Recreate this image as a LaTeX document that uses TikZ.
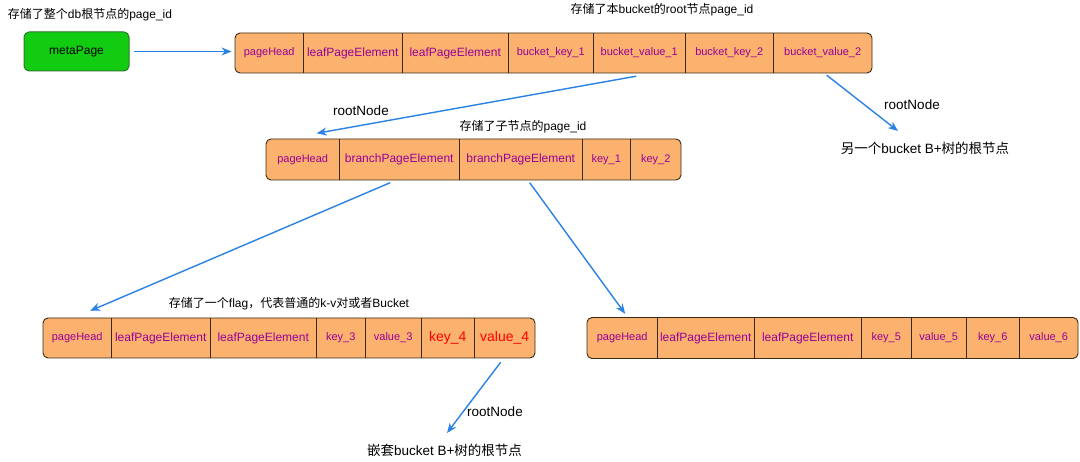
\documentclass[tikz,border=0pt]{standalone}
\usepackage{fontspec}
\setmainfont{Liberation Sans}
\newfontfamily\cjk{Noto Sans CJK SC}
\usetikzlibrary{calc,arrows.meta}
\definecolor{cellfill}{HTML}{FAB26E}
\definecolor{celltext}{HTML}{990099}
\definecolor{cellline}{HTML}{3A2A12}
\definecolor{arrblue}{HTML}{2A82E4}
\definecolor{metafill}{HTML}{11CC11}
\definecolor{metaline}{HTML}{2A7A2A}
\tikzset{
  rowbox/.style={draw=cellline, line width=0.9pt, fill=cellfill, rounded corners=5pt, inner sep=0pt},
  cell/.style={anchor=west, inner sep=0pt, minimum height=40pt, text=celltext, font=\fontsize{11}{13}\selectfont},
  bigcell/.style={cell, font=\fontsize{12}{14}\selectfont},
  redcell/.style={cell, text=red, font=\fontsize{14}{16}\selectfont},
  divider/.style={draw=cellline, line width=1.8pt},
  arr/.style={draw=arrblue, line width=1.4pt, -{Stealth[length=10pt,width=8pt]}},
  lbl/.style={inner sep=0pt, font=\fontsize{12}{14}\selectfont},
  rlbl/.style={inner sep=0pt, font=\fontsize{13.5}{15}\selectfont},
  metabox/.style={draw=metaline, line width=1pt, fill=metafill, rounded corners=5pt, inner sep=0pt, font=\fontsize{12}{14}\selectfont}
}
\begin{document}
\begin{tikzpicture}[x=1pt,y=-1pt]
\useasboundingbox[fill=white] (0,0) rectangle (1080,462);

% ---- top labels
\node[lbl] (l1) at (90,15) {{\cjk 存储了整个}db{\cjk 根节点的}page\_id};
\node[lbl] (l2) at (662,10) {{\cjk 存储了本}bucket{\cjk 的}root{\cjk 节点}page\_id};

% ---- metaPage
\node[metabox, minimum width=105pt, minimum height=39pt] (m) at (76.5,51.5) {metaPage};

% ---- row 1
\node[rowbox, minimum width=637pt, minimum height=40pt] (r1) at (553.5,53) {};
\node[cell, minimum width=68pt] (a1) at (235,53) {pageHead};
\node[bigcell, minimum width=99pt] (a2) at (303,53) {leafPageElement};
\node[bigcell, minimum width=106pt] (a3) at (402,53) {leafPageElement};
\node[cell, minimum width=85pt] (a4) at (508,53) {bucket\_key\_1};
\node[cell, minimum width=92pt] (a5) at (593,53) {bucket\_value\_1};
\node[cell, minimum width=88pt] (a6) at (685,53) {bucket\_key\_2};
\node[cell, minimum width=99pt] (a7) at (773,53) {bucket\_value\_2};
\foreach \n in {a1,a2,a3,a4,a5,a6} \draw[divider] (\n.north east) -- (\n.south east);

\draw[arr, shorten <=4pt, shorten >=3pt] (m.east) -- (m.east -| r1.west);

% ---- row 2
\node[rlbl] (rn1) at (361,111) {rootNode};
\node[lbl] (l3) at (523,127) {{\cjk 存储了子节点的}page\_id};
\node[rowbox, minimum width=415pt, minimum height=41pt] (r2) at (473.5,159.5) {};
\node[cell, minimum width=73pt] (b1) at (266,159.5) {pageHead};
\node[bigcell, minimum width=120pt] (b2) at (339,159.5) {branchPageElement};
\node[bigcell, minimum width=123pt] (b3) at (459,159.5) {branchPageElement};
\node[cell, minimum width=48pt] (b4) at (582,159.5) {key\_1};
\node[cell, minimum width=51pt] (b5) at (630,159.5) {key\_2};
\foreach \n in {b1,b2,b3,b4} \draw[divider] (\n.north east) -- (\n.south east);

\draw[arr] ($(a5.south)+(-3,3)$) -- ($(b1.north)+(14,-6)$);

% ---- other bucket
\node[rlbl] (rn2) at (912,105) {rootNode};
\node[rlbl] (o1) at (925,148) {{\cjk 另一个}bucket B+{\cjk 树的根节点}};
\draw[arr] ($(a7.south)+(4,2)$) -- ($(o1)+(-27,-17)$);

% ---- row 3 left
\node[lbl] (l4) at (289,304) {{\cjk 存储了一个}flag{\cjk ，代表普通的}k-v{\cjk 对或者}Bucket};
\node[rowbox, minimum width=492pt, minimum height=40pt] (r3) at (289,338) {};
\node[cell, minimum width=68pt] (c1) at (43,338) {pageHead};
\node[bigcell, minimum width=99pt] (c2) at (111,338) {leafPageElement};
\node[bigcell, minimum width=106pt] (c3) at (210,338) {leafPageElement};
\node[cell, minimum width=49pt] (c4) at (316,338) {key\_3};
\node[cell, minimum width=56pt] (c5) at (365,338) {value\_3};
\node[redcell, minimum width=53pt] (c6) at (421,338) {key\_4};
\node[redcell, minimum width=61pt] (c7) at (474,338) {value\_4};
\foreach \n in {c1,c2,c3,c4,c5,c6} \draw[divider] (\n.north east) -- (\n.south east);

% ---- row 3 right
\node[rowbox, minimum width=491pt, minimum height=41pt] (r4) at (832.5,338) {};
\node[cell, minimum width=70pt] (d1) at (587,338) {pageHead};
\node[bigcell, minimum width=97pt] (d2) at (657,338) {leafPageElement};
\node[bigcell, minimum width=107pt] (d3) at (754,338) {leafPageElement};
\node[cell, minimum width=50pt] (d4) at (861,338) {key\_5};
\node[cell, minimum width=55pt] (d5) at (911,338) {value\_5};
\node[cell, minimum width=53pt] (d6) at (966,338) {key\_6};
\node[cell, minimum width=59pt] (d7) at (1019,338) {value\_6};
\foreach \n in {d1,d2,d3,d4,d5,d6} \draw[divider] (\n.north east) -- (\n.south east);

\draw[arr] ($(b2.south)+(-9,3)$) -- ($(c1.north)+(13,-7)$);
\draw[arr] ($(b3.south)+(9,3)$) -- ($(d1.north)+(3,-4)$);

% ---- nested bucket
\node[rlbl] (rn3) at (495,412) {rootNode};
\node[rlbl] (o2) at (444.5,450) {{\cjk 嵌套}bucket B+{\cjk 树的根节点}};
\draw[arr] ($(c7.south)+(-4,4)$) -- ($(o2)+(2.5,-17)$);
\end{tikzpicture}
\end{document}
